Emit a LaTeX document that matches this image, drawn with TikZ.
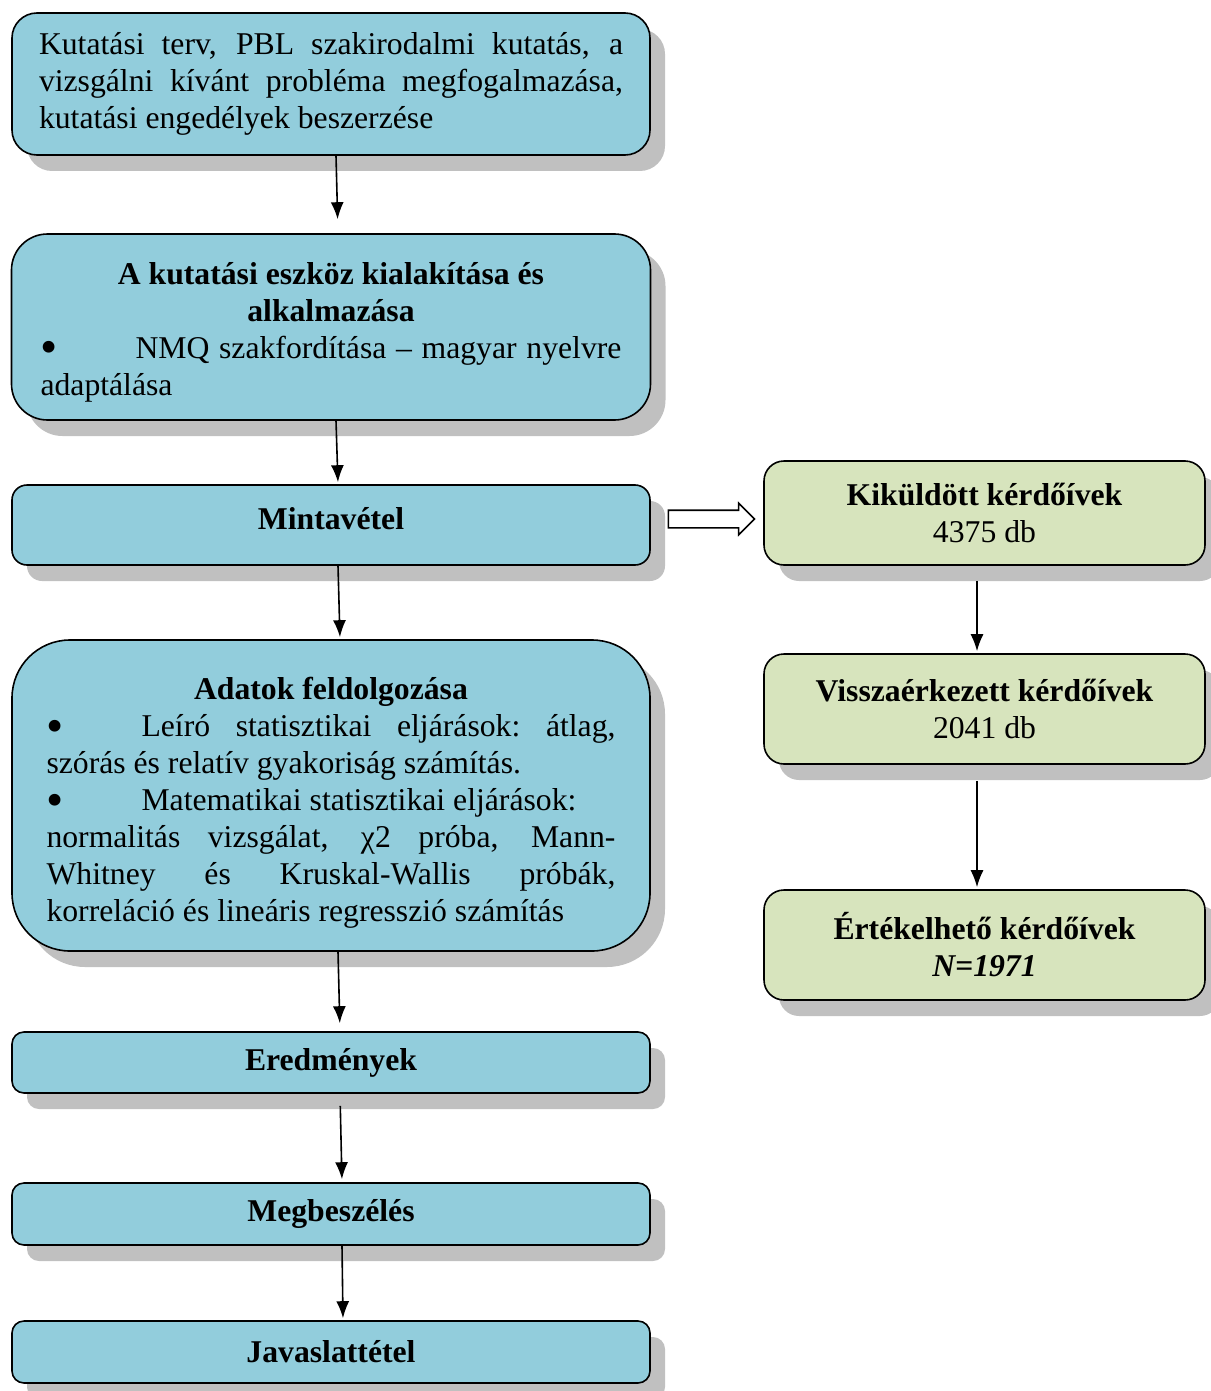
\documentclass[tikz,border=0pt]{standalone}
\usepackage{fontspec}
\setmainfont{Liberation Serif}
\usetikzlibrary{shapes.arrows, arrows.meta, positioning, calc, shadows}
\definecolor{stageBlue}{RGB}{146, 205, 220}
\definecolor{resultGreen}{RGB}{215, 228, 189}
\definecolor{shadowGray}{RGB}{192, 192, 192}
\tikzstyle{boxshadow} = [drop shadow={shadow xshift=15pt, shadow yshift=-16pt, fill=shadowGray, opacity=1}]
\tikzstyle{stage} = [rectangle, draw=black, line width=1.6pt, fill=stageBlue, minimum width=638pt, inner ysep=0pt, font=\fontsize{31.7}{37}\selectfont, boxshadow]
\tikzstyle{result} = [rectangle, draw=black, line width=1.6pt, fill=resultGreen, minimum width=441pt, rounded corners=20pt, align=center, font=\fontsize{31.7}{37}\selectfont, boxshadow]
\tikzstyle{flow} = [-{Latex[length=17pt,width=13pt]}, line width=1.6pt]
% justified line: spaces stretch to fill the given width
\newcommand{\jline}[2]{\makebox[#1][s]{\spaceskip=.25em plus 1fil\relax\xspaceskip=.25em plus 1fil\relax #2}}
\newcommand{\natspace}{\spaceskip=0pt\xspaceskip=0pt\relax}
\newcommand{\bul}{\makebox[95pt][l]{\smash{\raisebox{-0.18em}{\scalebox{1.55}{\textbullet}}}}}
\begin{document}
\begin{tikzpicture}[x=1pt, y=1pt]
				\useasboundingbox (0,0) rectangle (1210,-1391);
				% left column
				\node (plan) [stage, minimum height=142pt, rounded corners=25pt, text width=584pt, inner xsep=27pt] at (331,-84) {\natspace\jline{584pt}{Kutatási terv, PBL szakirodalmi kutatás, a}\\ \jline{584pt}{vizsgálni kívánt probléma megfogalmazása,}\\ kutatási engedélyek beszerzése};
				\node (tool) [stage, below=77.4pt of plan, minimum height=186pt, rounded corners=36pt, text width=581pt, inner xsep=29pt] {\natspace{\centering\bfseries\rule{0pt}{32pt}A kutatási eszköz kialakítása és\\ alkalmazása\par}\bul\jline{486pt}{NMQ szakfordítása – magyar nyelvre}\\ adaptálása};
				\node (sample) [stage, below=63.4pt of tool, minimum height=80pt, rounded corners=15pt, text depth=14pt, font=\fontsize{31.7}{37}\selectfont\bfseries] {Mintavétel};
				\node (data) [stage, below=73.4pt of sample, minimum height=311pt, rounded corners=58pt, text width=569pt, inner xsep=34.5pt] {\natspace{\centering\bfseries\rule{0pt}{37pt}Adatok feldolgozása\par}\bul\jline{474pt}{Leíró statisztikai eljárások: átlag,}\\ szórás és relatív gyakoriság számítás.\\ \bul Matematikai statisztikai eljárások:\\ \jline{569pt}{normalitás vizsgálat, χ2 próba, Mann-}\\ \jline{569pt}{Whitney és Kruskal-Wallis próbák,}\\ korreláció és lineáris regresszió számítás};
				\node (results) [stage, below=79.4pt of data, minimum height=61pt, rounded corners=12pt, font=\fontsize{31.7}{37}\selectfont\bfseries] {Eredmények};
				\node (discuss) [stage, below=88.4pt of results, minimum height=62pt, rounded corners=12pt, font=\fontsize{31.7}{37}\selectfont\bfseries] {Megbeszélés};
				\node (propose) [stage, below=74.4pt of discuss, minimum height=62pt, rounded corners=12pt, font=\fontsize{31.7}{37}\selectfont\bfseries] {Javaslattétel};
				% right column
				\node (sent) [result, right=112.4pt of sample, yshift=12pt, minimum height=104pt] {\textbf{Kiküldött kérdőívek}\\ 4375 db};
				\node (back) [result, below=87.4pt of sent, minimum height=110pt] {\textbf{Visszaérkezett kérdőívek}\\ 2041 db};
				\node (valid) [result, below=124.4pt of back, minimum height=110pt] {\textbf{Értékelhető kérdőívek}\\ \textbf{\textit{N=1971}}};
				\node (sendarrow) [single arrow, draw=black, line width=1.6pt, fill=white, inner sep=0pt, text height=16pt, text depth=0pt, minimum height=86pt, single arrow head extend=7pt] at ($(sample.east)!0.5!(sent.west)$) {};
				
				\draw[flow, shorten >=14pt] ([xshift=5pt]plan.south) -- ([xshift=7pt]tool.north);
				\draw[flow, shorten >=2pt] ([xshift=5pt]tool.south) -- ([xshift=7pt]sample.north);
				\draw[flow, shorten >=2pt] ([xshift=7pt]sample.south) -- ([xshift=9pt]data.north);
				\draw[flow, shorten >=8pt] ([xshift=7pt]data.south) -- ([xshift=9pt]results.north);
				\draw[flow, shorten <=12pt, shorten >=3pt] ([xshift=9pt]results.south) -- ([xshift=11pt]discuss.north);
				\draw[flow, shorten >=2pt] ([xshift=11pt]discuss.south) -- ([xshift=12pt]propose.north);
				\draw[flow, shorten <=15pt, shorten >=2pt] ([xshift=-7.5pt]sent.south) -- ([xshift=-7.5pt]back.north);
				\draw[flow, shorten <=16pt, shorten >=2pt] ([xshift=-7.5pt]back.south) -- ([xshift=-7.5pt]valid.north);
			\end{tikzpicture}
\end{document}
